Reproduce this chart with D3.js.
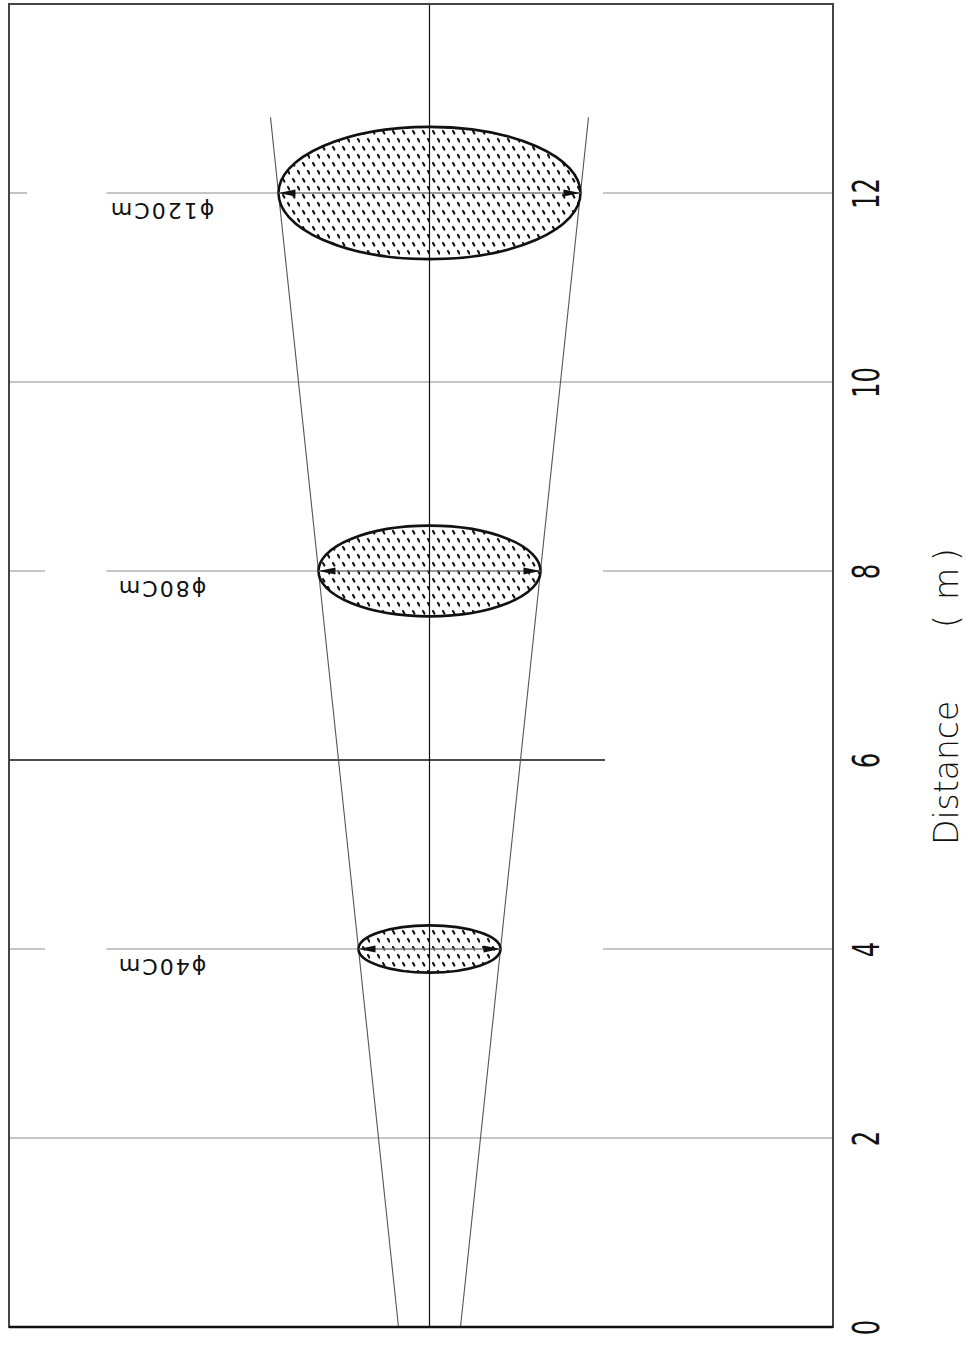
<!DOCTYPE html>
<html>
<head>
<meta charset="utf-8">
<script src="https://cdn.jsdelivr.net/npm/d3@7"></script>
<style>
  html, body { margin: 0; padding: 0; background: #fff; }
  svg { display: block; }
  text { font-family: "DejaVu Sans", sans-serif; fill: #111; }
</style>
</head>
<body>
<svg id="chart" width="966" height="1349"></svg>
<script>
// ---- data ----
const distanceTicks = [0, 2, 4, 6, 8, 10, 12];
const targetDistance = [4, 8, 12];
const targetLabel = ["ϕ40Cm", "ϕ80Cm", "ϕ120Cm"];
const targetHalfWidthCm = [35.5, 55.5, 75.5];   // lateral half-width of each spot
const targetHalfDepthM = [0.25, 0.48, 0.70];    // drawn depth of each spot ellipse
const coneDistance = [0, 12.8];
const coneHalfWidthCm = [15.5, 79.5];
const axisTitleParts = ["Distance", "(", "m", ")"];

// ---- layout ----
const frame = { left: 9, top: 4, right: 833, bottom: 1327 };

const svg = d3.select("#chart");

const y = d3.scaleLinear().domain([0, 14]).range([frame.bottom, frame.top]);
const x = d3.scaleLinear().domain([-210.25, 201.75]).range([frame.left, frame.right]);
const cx0 = x(0);

// pattern for spot fill: staggered short slanted dashes
const defs = svg.append("defs");
const pat = defs.append("pattern")
  .attr("id", "dash").attr("patternUnits", "userSpaceOnUse")
  .attr("width", 10).attr("height", 16);
pat.append("rect").attr("width", 10).attr("height", 16).attr("fill", "#fff");
[[3, 3], [8, 11]].forEach(p => {
  pat.append("line")
    .attr("x1", p[0]).attr("y1", p[1]).attr("x2", p[0] + 1.4).attr("y2", p[1] + 2.6)
    .attr("stroke", "#111").attr("stroke-width", 2.1).attr("stroke-linecap", "round");
});

// ---- gridlines ----
const grid = svg.append("g");
const labelCenterX = x(-134);
distanceTicks.forEach(d => {
  if (d === 0) return;
  const yy = y(d);
  const ti = targetDistance.indexOf(d);
  let segs;
  let color = "#b3b3b3", sw = 1.6;
  if (ti >= 0) {
    const right = x(targetHalfWidthCm[ti]);
    segs = [[frame.left, d === 12 ? 27 : 45], [labelCenterX - 55, right], [603, frame.right]];
  } else if (d === 6) {
    segs = [[frame.left, 605]];
    color = "#111"; sw = 1.3;
  } else {
    segs = [[frame.left, frame.right]];
  }
  segs.forEach(s => grid.append("line")
    .attr("x1", s[0]).attr("x2", s[1]).attr("y1", yy).attr("y2", yy)
    .attr("stroke", color).attr("stroke-width", sw));
});

// ---- cone lines ----
const coneLine = d3.line().x(p => x(p[0])).y(p => y(p[1]));
[-1, 1].forEach(sgn => {
  svg.append("path")
    .attr("d", coneLine(coneDistance.map((dd, i) => [sgn * coneHalfWidthCm[i], dd])))
    .attr("fill", "none").attr("stroke", "#555").attr("stroke-width", 1.1);
});

// ---- spots ----
const spots = svg.append("g");
targetDistance.forEach((d, i) => {
  const rx = x(targetHalfWidthCm[i]) - cx0;
  const ry = y(0) - y(targetHalfDepthM[i]);
  spots.append("ellipse")
    .attr("cx", cx0).attr("cy", y(d)).attr("rx", rx).attr("ry", ry)
    .attr("fill", "url(#dash)").attr("stroke", "#111").attr("stroke-width", 2.6);
  spots.append("line")
    .attr("x1", cx0 - rx).attr("x2", cx0 + rx).attr("y1", y(d)).attr("y2", y(d))
    .attr("stroke", "#777").attr("stroke-width", 1.4);
  [-1, 1].forEach(sgn => {
    const tip = cx0 + sgn * rx;
    const base = tip - sgn * 17;
    spots.append("path")
      .attr("d", `M${tip},${y(d)} L${base},${y(d) - 3.5} L${base},${y(d) + 3.5} Z`)
      .attr("fill", "#111");
  });
  svg.append("text")
    .attr("transform", `translate(${labelCenterX},${y(d) + 10}) rotate(180)`)
    .attr("text-anchor", "middle")
    .attr("font-size", 22)
    .attr("letter-spacing", 2)
    .text(targetLabel[i]);
});

// ---- center line ----
svg.append("line")
  .attr("x1", cx0).attr("x2", cx0).attr("y1", frame.top).attr("y2", frame.bottom)
  .attr("stroke", "#111").attr("stroke-width", 1.2);

// ---- frame ----
svg.append("rect")
  .attr("x", frame.left).attr("y", frame.top)
  .attr("width", frame.right - frame.left).attr("height", frame.bottom - frame.top)
  .attr("fill", "none").attr("stroke", "#444").attr("stroke-width", 2);
svg.append("line")
  .attr("x1", frame.left).attr("x2", frame.right).attr("y1", frame.bottom).attr("y2", frame.bottom)
  .attr("stroke", "#111").attr("stroke-width", 2.4);

// ---- axis labels (rotated) ----
const axis = d3.axisRight(y).tickValues(distanceTicks).tickSize(0).tickFormat(d3.format("d"));
const ag = svg.append("g").attr("transform", `translate(${frame.right},0)`).call(axis);
ag.select(".domain").remove();
ag.selectAll("text")
  .attr("x", null).attr("dy", null)
  .attr("text-anchor", "middle")
  .attr("font-size", 38)
  .attr("font-weight", "normal")
  .attr("font-family", "DejaVu Sans, sans-serif")
  .attr("fill", "#111")
  .attr("transform", "translate(46,0) rotate(-90) scale(0.64,1)");

// ---- axis title ----
const title = svg.append("text")
  .attr("transform", "translate(958,0) rotate(-90)")
  .attr("font-size", 33)
  .attr("font-weight", 300);
const titlePos = [-845, -628, -600, -561];
axisTitleParts.forEach((t, i) => {
  title.append("tspan").attr("x", titlePos[i]).text(t);
});
</script>
</body>
</html>
